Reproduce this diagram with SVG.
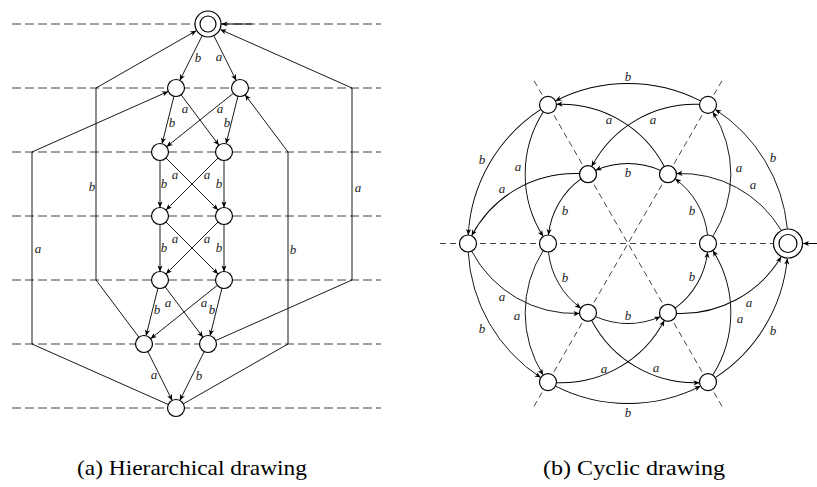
<svg xmlns="http://www.w3.org/2000/svg" width="817" height="487" viewBox="0 0 817 487">
<defs>
<marker id="ah" viewBox="-7 -4 8 8" refX="0" refY="0" markerWidth="8" markerHeight="8" markerUnits="userSpaceOnUse" orient="auto">
<path d="M0,0 L-6,-2.6 L-4.4,0 L-6,2.6 Z" fill="#000"/>
</marker>
</defs>
<style>
.grid{stroke:#444;stroke-width:1;stroke-dasharray:9 4;fill:none}
.ray{stroke:#444;stroke-width:1;stroke-dasharray:6 4;fill:none}
.e{stroke:#000;stroke-width:0.9;fill:none;marker-end:url(#ah)}
.i{stroke:#000;stroke-width:1;fill:none;marker-end:url(#ah)}
.n{fill:#fff;stroke:#000;stroke-width:1.2}
.lbl{font-family:"Liberation Serif","Times New Roman",serif;font-style:italic;font-size:13px;fill:#222;text-anchor:middle}
.cap{font-family:"Liberation Serif","Times New Roman",serif;font-size:21px;fill:#000;text-anchor:middle}
</style>
<rect width="817" height="487" fill="#fff"/>

<!-- (a) level lines -->
<g id="levels">
<line class="grid" x1="12" y1="24" x2="381" y2="24"/>
<line class="grid" x1="12" y1="88" x2="381" y2="88"/>
<line class="grid" x1="12" y1="152" x2="381" y2="152"/>
<line class="grid" x1="12" y1="216" x2="381" y2="216"/>
<line class="grid" x1="12" y1="280" x2="381" y2="280"/>
<line class="grid" x1="12" y1="344" x2="381" y2="344"/>
<line class="grid" x1="12" y1="408" x2="381" y2="408"/>
</g>

<!-- (b) rays -->
<g id="rays">
<line class="ray" x1="440" y1="243.5" x2="816" y2="243.5"/>
<line class="ray" x1="534" y1="80.7" x2="722" y2="406.3"/>
<line class="ray" x1="722" y1="80.7" x2="534" y2="406.3"/>
</g>

<g id="connectors-a">
<path class="i" d="M252,24 L221.5,24"/>
<path class="e" d="M201.96,36.07 L179.8,80.4"/>
<path class="e" d="M214.04,36.07 L236.2,80.4"/>
<path class="e" d="M173.94,96.25 L162.06,143.75"/>
<path class="e" d="M181.1,94.8 L218.9,145.2"/>
<path class="e" d="M233.36,93.31 L166.64,146.69"/>
<path class="e" d="M237.94,96.25 L226.06,143.75"/>
<path class="e" d="M160,160.5 L160,207.5"/>
<path class="e" d="M166.01,158.01 L217.99,209.99"/>
<path class="e" d="M217.99,158.01 L166.01,209.99"/>
<path class="e" d="M224,160.5 L224,207.5"/>
<path class="e" d="M160,224.5 L160,271.5"/>
<path class="e" d="M166.01,222.01 L217.99,273.99"/>
<path class="e" d="M217.99,222.01 L166.01,273.99"/>
<path class="e" d="M224,224.5 L224,271.5"/>
<path class="e" d="M157.94,288.25 L146.06,335.75"/>
<path class="e" d="M165.1,286.8 L202.9,337.2"/>
<path class="e" d="M217.36,285.31 L150.64,338.69"/>
<path class="e" d="M221.94,288.25 L210.06,335.75"/>
<path class="e" d="M147.8,351.6 L172.2,400.4"/>
<path class="e" d="M204.2,351.6 L179.8,400.4"/>
<path class="e" d="M168.2,404.5 L32,344 L32,152 L168.2,91.45"/>
<path class="e" d="M183.4,403.8 L288,344 L288,152 L245.1,94.8"/>
<path class="e" d="M138.9,337.2 L96,280 L96,88 L196.28,30.7"/>
<path class="e" d="M215.8,340.5 L352,280 L352,88 L220.3,29.5"/>
</g>

<g id="connectors-b">
<path class="i" d="M817,243.5 L803,243.5"/>
<!-- outer b arcs O_k -> O_k+1 -->
<path class="e" d="M787.3,228.51 A160,160 0 0 0 715.24,109.38"/>
<path class="e" d="M787.77,235 A160,160 0 0 0 715.24,109.38" transform="rotate(-60 628 243.5)"/>
<path class="e" d="M787.77,235 A160,160 0 0 0 715.24,109.38" transform="rotate(-120 628 243.5)"/>
<path class="e" d="M787.77,235 A160,160 0 0 0 715.24,109.38" transform="rotate(180 628 243.5)"/>
<path class="e" d="M787.77,235 A160,160 0 0 0 715.24,109.38" transform="rotate(120 628 243.5)"/>
<path class="e" d="M787.77,235 A160,160 0 0 0 720.6,113.02" transform="rotate(60 628 243.5)"/>
<!-- inner b arcs I_k -> I_k+1 -->
<path class="e" d="M707.55,235.01 A80,80 0 0 0 675.12,178.85"/>
<path class="e" d="M707.55,235.01 A80,80 0 0 0 675.12,178.85" transform="rotate(-60 628 243.5)"/>
<path class="e" d="M707.55,235.01 A80,80 0 0 0 675.12,178.85" transform="rotate(-120 628 243.5)"/>
<path class="e" d="M707.55,235.01 A80,80 0 0 0 675.12,178.85" transform="rotate(180 628 243.5)"/>
<path class="e" d="M707.55,235.01 A80,80 0 0 0 675.12,178.85" transform="rotate(120 628 243.5)"/>
<path class="e" d="M707.55,235.01 A80,80 0 0 0 675.12,178.85" transform="rotate(60 628 243.5)"/>
<!-- a arcs O_k -> I_k+1 -->
<path class="e" d="M781.15,230.16 A116.5,116.5 0 0 0 676.48,173.56"/>
<path class="e" d="M784.33,235.83 A116.5,116.5 0 0 0 676.48,173.56" transform="rotate(-60 628 243.5)"/>
<path class="e" d="M784.33,235.83 A116.5,116.5 0 0 0 676.48,173.56" transform="rotate(-120 628 243.5)"/>
<path class="e" d="M784.33,235.83 A116.5,116.5 0 0 0 676.48,173.56" transform="rotate(180 628 243.5)"/>
<path class="e" d="M784.33,235.83 A116.5,116.5 0 0 0 676.48,173.56" transform="rotate(120 628 243.5)"/>
<path class="e" d="M784.33,235.83 A116.5,116.5 0 0 0 676.48,173.56" transform="rotate(60 628 243.5)"/>
<!-- a arcs I_k -> O_k+1 -->
<path class="e" d="M712.81,236.48 A116.5,116.5 0 0 0 712.81,111.96"/>
<path class="e" d="M712.81,236.48 A116.5,116.5 0 0 0 712.81,111.96" transform="rotate(-60 628 243.5)"/>
<path class="e" d="M712.81,236.48 A116.5,116.5 0 0 0 712.81,111.96" transform="rotate(-120 628 243.5)"/>
<path class="e" d="M712.81,236.48 A116.5,116.5 0 0 0 712.81,111.96" transform="rotate(180 628 243.5)"/>
<path class="e" d="M712.81,236.48 A116.5,116.5 0 0 0 712.81,111.96" transform="rotate(120 628 243.5)"/>
<path class="e" d="M712.81,236.48 A116.5,116.5 0 0 0 716.13,117.54" transform="rotate(60 628 243.5)"/>
</g>

<g id="labels-a">
<text class="lbl" x="198" y="61.5">b</text>
<text class="lbl" x="219" y="60.5">a</text>
<text class="lbl" x="172" y="126.5">b</text>
<text class="lbl" x="185" y="112.5">a</text>
<text class="lbl" x="220" y="112.5">a</text>
<text class="lbl" x="227" y="126.5">b</text>
<text class="lbl" x="164" y="187.5">b</text>
<text class="lbl" x="175" y="178.5">a</text>
<text class="lbl" x="207" y="178.5">a</text>
<text class="lbl" x="219" y="187.5">b</text>
<text class="lbl" x="164" y="251.5">b</text>
<text class="lbl" x="175" y="242.5">a</text>
<text class="lbl" x="207" y="242.5">a</text>
<text class="lbl" x="219" y="251.5">b</text>
<text class="lbl" x="157" y="313.5">b</text>
<text class="lbl" x="168" y="306.5">a</text>
<text class="lbl" x="204" y="306.5">a</text>
<text class="lbl" x="212" y="313.5">b</text>
<text class="lbl" x="154" y="378.5">a</text>
<text class="lbl" x="199" y="379.5">b</text>
<text class="lbl" x="38" y="252.5">a</text>
<text class="lbl" x="92" y="190.5">b</text>
<text class="lbl" x="293" y="253.5">b</text>
<text class="lbl" x="358" y="191.5">a</text>
</g>

<g id="labels-b">
<text class="lbl" x="773" y="161.5">b</text>
<text class="lbl" x="628" y="80.5">b</text>
<text class="lbl" x="482" y="163.5">b</text>
<text class="lbl" x="482" y="332.5">b</text>
<text class="lbl" x="628" y="416.5">b</text>
<text class="lbl" x="773" y="334.5">b</text>
<text class="lbl" x="692" y="214.5">b</text>
<text class="lbl" x="628" y="176.5">b</text>
<text class="lbl" x="565" y="214.5">b</text>
<text class="lbl" x="565" y="281.5">b</text>
<text class="lbl" x="628" y="319.5">b</text>
<text class="lbl" x="692" y="280.5">b</text>
<text class="lbl" x="609" y="123.5">a</text>
<text class="lbl" x="653" y="123.5">a</text>
<text class="lbl" x="518" y="170.5">a</text>
<text class="lbl" x="502" y="192.5">a</text>
<text class="lbl" x="753" y="188.5">a</text>
<text class="lbl" x="739" y="171.5">a</text>
<text class="lbl" x="502" y="300.5">a</text>
<text class="lbl" x="517" y="319.5">a</text>
<text class="lbl" x="604" y="372.5">a</text>
<text class="lbl" x="656" y="371.5">a</text>
<text class="lbl" x="740" y="322.5">a</text>
<text class="lbl" x="749" y="306.5">a</text>
</g>

<!-- (a) nodes -->
<g id="a-top"><circle class="n" cx="208" cy="24" r="13"/><circle class="n" cx="208" cy="24" r="8"/></g>
<g id="a-1l"><circle class="n" cx="176" cy="88" r="8.5"/></g>
<g id="a-1r"><circle class="n" cx="240" cy="88" r="8.5"/></g>
<g id="a-2l"><circle class="n" cx="160" cy="152" r="8.5"/></g>
<g id="a-2r"><circle class="n" cx="224" cy="152" r="8.5"/></g>
<g id="a-3l"><circle class="n" cx="160" cy="216" r="8.5"/></g>
<g id="a-3r"><circle class="n" cx="224" cy="216" r="8.5"/></g>
<g id="a-4l"><circle class="n" cx="160" cy="280" r="8.5"/></g>
<g id="a-4r"><circle class="n" cx="224" cy="280" r="8.5"/></g>
<g id="a-5l"><circle class="n" cx="144" cy="344" r="8.5"/></g>
<g id="a-5r"><circle class="n" cx="208" cy="344" r="8.5"/></g>
<g id="a-bot"><circle class="n" cx="176" cy="408" r="8.5"/></g>

<!-- (b) nodes -->
<g id="b-o0"><circle class="n" cx="788" cy="243.5" r="14.5"/><circle class="n" cx="788" cy="243.5" r="9"/></g>
<g id="b-o60"><circle class="n" cx="708" cy="104.94" r="8.5"/></g>
<g id="b-o120"><circle class="n" cx="548" cy="104.94" r="8.5"/></g>
<g id="b-o180"><circle class="n" cx="468" cy="243.5" r="8.5"/></g>
<g id="b-o240"><circle class="n" cx="548" cy="382.06" r="8.5"/></g>
<g id="b-o300"><circle class="n" cx="708" cy="382.06" r="8.5"/></g>
<g id="b-i0"><circle class="n" cx="708" cy="243.5" r="8.5"/></g>
<g id="b-i60"><circle class="n" cx="668" cy="174.22" r="8.5"/></g>
<g id="b-i120"><circle class="n" cx="588" cy="174.22" r="8.5"/></g>
<g id="b-i180"><circle class="n" cx="548" cy="243.5" r="8.5"/></g>
<g id="b-i240"><circle class="n" cx="588" cy="312.78" r="8.5"/></g>
<g id="b-i300"><circle class="n" cx="668" cy="312.78" r="8.5"/></g>

<g id="captions">
<text class="cap" x="192" y="475" textLength="230" lengthAdjust="spacingAndGlyphs">(a) Hierarchical drawing</text>
<text class="cap" x="634" y="475" textLength="182" lengthAdjust="spacingAndGlyphs">(b) Cyclic drawing</text>
</g>
</svg>
